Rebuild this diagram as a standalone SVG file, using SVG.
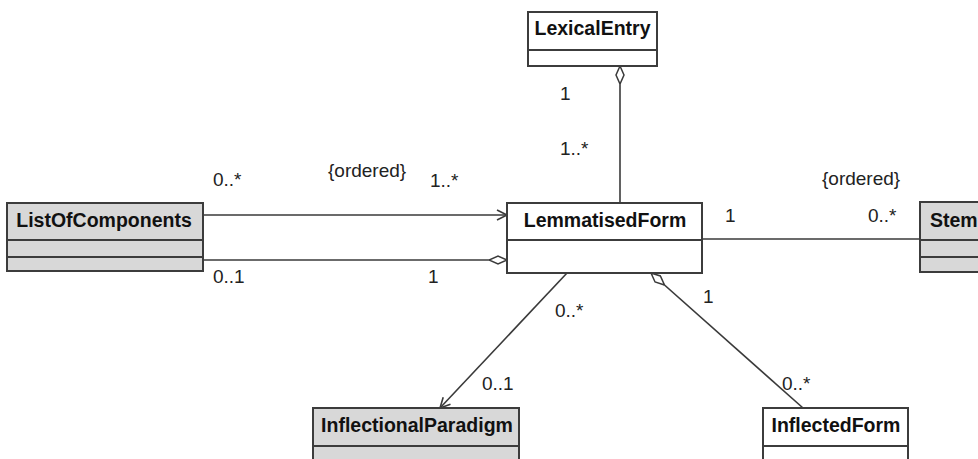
<svg xmlns="http://www.w3.org/2000/svg" width="978" height="459" viewBox="0 0 978 459">
<style>
.box{stroke:#3c3c3c;stroke-width:2}
.w{fill:#ffffff}
.g{fill:#d8d8d8}
.div{stroke:#3c3c3c;stroke-width:2}
.name{font-family:"Liberation Sans",Arial,sans-serif;font-weight:bold;font-size:19.5px;fill:#111;text-anchor:middle}
.lbl{font-family:"Liberation Sans",Arial,sans-serif;font-size:19px;fill:#222}
.c{stroke:#3a3a3a;stroke-width:1.6;fill:none}
</style>
<defs>
<marker id="diamond" markerUnits="userSpaceOnUse" markerWidth="20" markerHeight="10" refX="18" refY="5" orient="auto-start-reverse">
<path d="M0,5 L9,1 L18,5 L9,9 Z" fill="#ffffff" stroke="#3a3a3a" stroke-width="1.5"/>
</marker>
<marker id="arrow" markerUnits="userSpaceOnUse" markerWidth="14" markerHeight="14" refX="11" refY="6" orient="auto">
<path d="M1,1 L11,6 L1,11" fill="none" stroke="#3a3a3a" stroke-width="1.6"/>
</marker>
</defs>
<rect width="978" height="459" fill="#ffffff"/>
<g id="connectors">
<line class="c" x1="620" y1="203" x2="620" y2="66" marker-end="url(#diamond)"/>
<line class="c" x1="203" y1="215" x2="507" y2="215" marker-end="url(#arrow)"/>
<line class="c" x1="203" y1="260" x2="507" y2="260" marker-end="url(#diamond)"/>
<line class="c" x1="702" y1="239" x2="920" y2="239"/>
<line class="c" x1="567" y1="273" x2="440" y2="408" marker-end="url(#arrow)"/>
<line class="c" x1="803" y1="408" x2="651" y2="273" marker-end="url(#diamond)"/>
</g>
<g id="LexicalEntry">
<rect class="box w" x="528" y="12" width="129" height="54"/>
<line class="div" x1="528" y1="50" x2="657" y2="50"/>
<text class="name" x="592.5" y="35">LexicalEntry</text>
</g>
<g id="ListOfComponents">
<rect class="box g" x="7" y="203" width="196" height="68"/>
<line class="div" x1="7" y1="240" x2="203" y2="240"/>
<line class="div" x1="7" y1="257" x2="203" y2="257"/>
<text class="name" x="104" y="227">ListOfComponents</text>
</g>
<g id="LemmatisedForm">
<rect class="box w" x="507" y="203" width="195" height="70"/>
<line class="div" x1="507" y1="240" x2="702" y2="240"/>
<text class="name" x="605" y="227">LemmatisedForm</text>
</g>
<g id="Stem">
<rect class="box g" x="920" y="202" width="80" height="70"/>
<line class="div" x1="920" y1="240" x2="1000" y2="240"/>
<line class="div" x1="920" y1="257" x2="1000" y2="257"/>
<text class="name" x="930" y="227" style="text-anchor:start">Stem</text>
</g>
<g id="InflectionalParadigm">
<rect class="box g" x="313" y="408" width="206" height="70"/>
<line class="div" x1="313" y1="446" x2="519" y2="446"/>
<text class="name" x="417" y="432">InflectionalParadigm</text>
</g>
<g id="InflectedForm">
<rect class="box w" x="763" y="408" width="145" height="70"/>
<line class="div" x1="763" y1="446" x2="908" y2="446"/>
<text class="name" x="836" y="432">InflectedForm</text>
</g>
<g id="labels">
<text class="lbl" x="560" y="100">1</text>
<text class="lbl" x="560" y="155">1..*</text>
<text class="lbl" x="213" y="186">0..*</text>
<text class="lbl" x="328" y="177">{ordered}</text>
<text class="lbl" x="430" y="187">1..*</text>
<text class="lbl" x="213" y="283">0..1</text>
<text class="lbl" x="428" y="283">1</text>
<text class="lbl" x="725" y="222">1</text>
<text class="lbl" x="822" y="185">{ordered}</text>
<text class="lbl" x="868" y="222">0..*</text>
<text class="lbl" x="555" y="317">0..*</text>
<text class="lbl" x="482" y="390">0..1</text>
<text class="lbl" x="703" y="303">1</text>
<text class="lbl" x="782" y="390">0..*</text>
</g>
</svg>
